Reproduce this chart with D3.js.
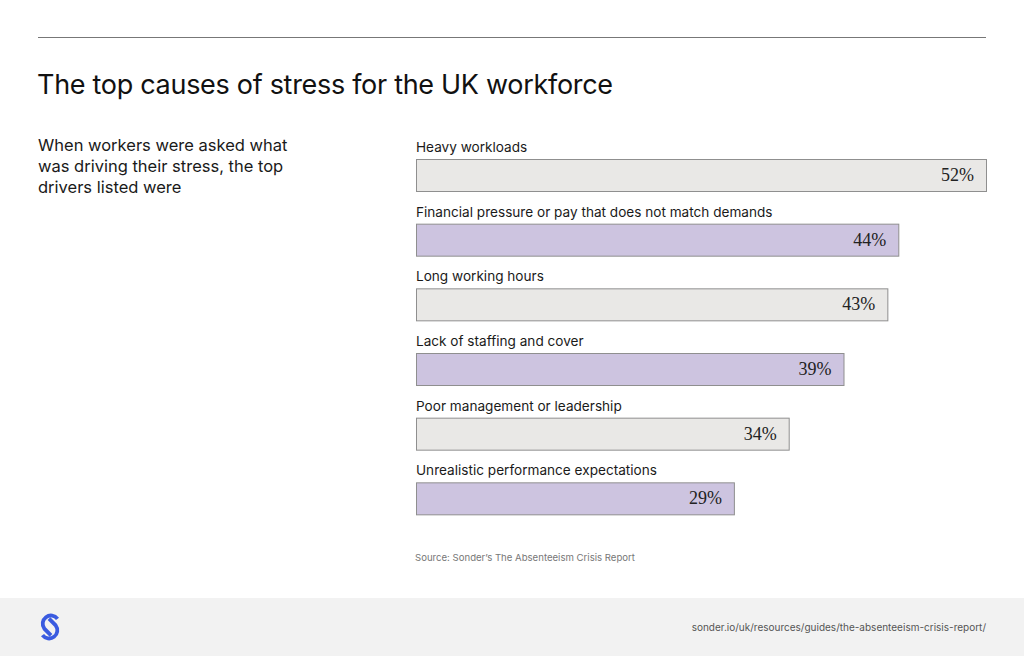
<!DOCTYPE html>
<html>
<head>
<meta charset="utf-8">
<title>Stress causes</title>
<script src="https://cdn.jsdelivr.net/npm/d3@7"></script>
<style>
  body { margin: 0; background: #fff; }
  svg { display: block; }
</style>
</head>
<body>
<script>
var causes = ["Heavy workloads", "Financial pressure or pay that does not match demands",
    "Long working hours", "Lack of staffing and cover",
    "Poor management or leadership", "Unrealistic performance expectations"];
var shares = [52, 44, 43, 39, 34, 29];
var fills = ["#e9e8e6", "#cdc4e0", "#e9e8e6", "#cdc4e0", "#e9e8e6", "#cdc4e0"];

var width = 1024, height = 656;
var sans = "Inter, 'Noto Sans', sans-serif";

var svg = d3.select("body").append("svg")
    .attr("width", width)
    .attr("height", height);

// top rule
svg.append("line")
    .attr("x1", 38).attr("x2", 986)
    .attr("y1", 37.5).attr("y2", 37.5)
    .attr("stroke", "#777").attr("stroke-width", 1);

svg.append("text")
    .attr("x", 37).attr("y", 94)
    .attr("font-family", sans)
    .attr("font-size", 27)
    .attr("letter-spacing", -0.3)
    .attr("fill", "#111")
    .text("The top causes of stress for the UK workforce");

var intro = ["When workers were asked what", "was driving their stress, the top", "drivers listed were"];
svg.append("g").selectAll("text")
    .data(intro)
    .enter().append("text")
    .attr("x", 38)
    .attr("y", function(d, i) { return 151 + i * 21; })
    .attr("font-family", sans)
    .attr("font-size", 16.5)
    .attr("fill", "#1a1a1a")
    .text(function(d) { return d; });

var x = d3.scaleLinear().domain([0, 52]).range([416, 986]);
var y = d3.scaleBand().domain(causes).range([136, 524]).paddingInner(0);

var rows = svg.append("g").selectAll("g")
    .data(causes)
    .enter().append("g")
    .attr("transform", function(d) { return "translate(0," + y(d) + ")"; });

rows.append("text")
    .attr("x", 416)
    .attr("y", 16)
    .attr("font-family", sans)
    .attr("font-size", 13.6)
    .attr("fill", "#1a1a1a")
    .text(function(d) { return d; });

rows.append("rect")
    .attr("x", x(0) + 0.5)
    .attr("y", 23.5)
    .attr("width", function(d, i) { return x(shares[i]) - x(0); })
    .attr("height", 32)
    .attr("fill", function(d, i) { return fills[i]; })
    .attr("stroke", "#8f8f8f")
    .attr("stroke-width", 1);

rows.append("text")
    .attr("x", function(d, i) { return x(shares[i]) - 12; })
    .attr("y", 45)
    .attr("text-anchor", "end")
    .attr("font-family", "'Liberation Serif', serif")
    .attr("font-size", 18)
    .attr("fill", "#222")
    .text(function(d, i) { return shares[i] + "%"; });

svg.append("text")
    .attr("x", 415).attr("y", 561)
    .attr("font-family", sans)
    .attr("font-size", 9.6)
    .attr("fill", "#777")
    .text("Source: Sonder\u2019s The Absenteeism Crisis Report");

// footer band
svg.append("rect")
    .attr("x", 0).attr("y", 598)
    .attr("width", width).attr("height", height - 598)
    .attr("fill", "#f2f2f2");

svg.append("text")
    .attr("x", 986).attr("y", 631)
    .attr("text-anchor", "end")
    .attr("font-family", sans)
    .attr("font-size", 10)
    .attr("fill", "#555")
    .text("sonder.io/uk/resources/guides/the-absenteeism-crisis-report/");

// logo: two interlocking hooks forming an S
var hook = "M7.5,-8.2 A8,8 0 1,0 -5.66,1.66 L1,8.3";
var logo = svg.append("g").attr("transform", "translate(50,627)")
    .attr("fill", "none").attr("stroke", "#3a5be0")
    .attr("stroke-width", 3.8).attr("stroke-linecap", "butt");
logo.append("path").attr("d", hook);
logo.append("path").attr("d", hook).attr("transform", "rotate(180)");
</script>
</body>
</html>
